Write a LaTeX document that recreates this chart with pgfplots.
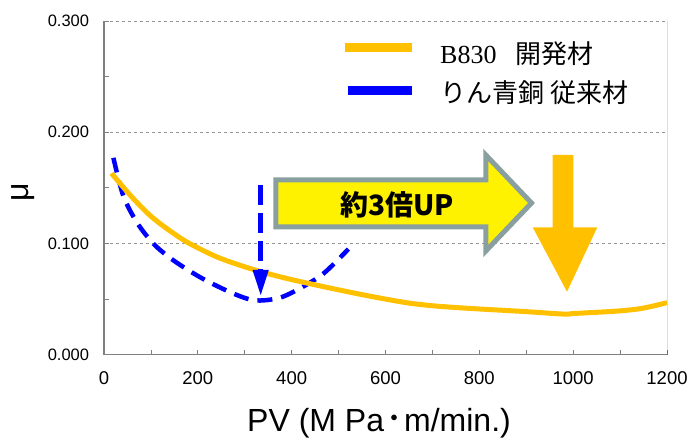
\documentclass[border=0pt]{standalone}
\usepackage{fontspec}
\setmainfont{Liberation Sans}
\newfontfamily\cjk{Noto Sans CJK JP}
\newfontfamily\serif{Liberation Serif}
\usepackage{pgfplots}
\pgfplotsset{compat=1.18}

\definecolor{gold}{RGB}{255,192,0}
\definecolor{arrowgray}{RGB}{138,160,160}
\definecolor{gridgray}{RGB}{150,150,150}
\definecolor{axisgray}{RGB}{128,128,128}

\begin{document}
\begin{tikzpicture}[x=1pt,y=1pt]
\useasboundingbox (0,0) rectangle (688,438);
\begin{axis}[
    at={(104pt,83.3pt)}, anchor=south west,
    scale only axis, width=563pt, height=333.7pt,
    xmin=0, xmax=1200, ymin=0, ymax=0.3,
    axis x line*=bottom, axis y line*=left,
    axis line style={axisgray, line width=1.2pt},
    xtick={0,200,...,1200}, minor x tick num=1,
    ytick={0,0.1,0.2,0.3}, minor y tick num=1,
    tick align=inside,
    major tick length=5pt, minor tick length=5pt,
    tick style={axisgray, line width=0.8pt},
    ymajorgrids,
    grid style={gridgray, dash pattern=on 3pt off 3pt, line width=0.8pt},
    /pgf/number format/assume math mode=true,
    /pgf/number format/1000 sep={},
    scaled y ticks=false,
    yticklabel style={/pgf/number format/fixed, /pgf/number format/fixed zerofill,
        /pgf/number format/precision=3,
        font=\fontsize{16.5}{18}\selectfont, anchor=east, inner sep=0pt, xshift=-14.7pt},
    xticklabel style={font=\fontsize{18.5}{20}\selectfont, anchor=north, inner sep=0pt, yshift=-17pt},
    xlabel={PV (M Pa\raisebox{5.4pt}{\cjk\bfseries\fontsize{20}{22}\selectfont ・}m/min.)},
    ylabel={μ},
    label style={font=\fontsize{32}{36}\selectfont, inner sep=0pt},
    xlabel style={at={(rel axis cs:0.4885,-0.2047)}, anchor=center},
    ylabel style={at={(rel axis cs:-0.1439,0.488)}, anchor=center},
]

% りん青銅 (conventional)
\addplot[blue, line width=4.5pt, smooth, dash pattern=on 15pt off 9pt] coordinates {
    (20,0.177) (41,0.143) (70,0.119) (106,0.0995) (148,0.0848) (205,0.0696)
    (262,0.0575) (304,0.0505) (333,0.0487) (375,0.0512) (418,0.0597)
    (468,0.073) (521,0.095)
};

% B830 (developed)
\addplot[gold, line width=5pt, smooth] coordinates {
    (16,0.163) (60,0.1415) (100,0.1245) (140,0.1115) (180,0.1005) (240,0.0880)
    (300,0.0790) (350,0.0728) (400,0.0675) (450,0.0628) (500,0.0583)
    (550,0.0540) (600,0.0500) (650,0.0464) (700,0.0440) (750,0.0424)
    (800,0.0411) (900,0.0387) (980,0.0365) (1000,0.0370) (1050,0.0381)
    (1100,0.0394) (1140,0.0412) (1170,0.0437) (1200,0.0468)
};

\draw[black, line width=1pt] (rel axis cs:1,0) -- (rel axis cs:1,1);
\end{axis}

% legend
\draw[gold, line width=9pt] (345,390.7) -- (411.7,390.7);
\draw[blue, line width=9pt] (348,347) -- (411.7,347);
\node[anchor=west, inner sep=0pt] at (440,384)
    {\fontsize{26}{30}\selectfont{\serif B830}\hspace{19pt}{\cjk 開発材}};
\node[anchor=west, inner sep=0pt] at (440,345.5)
    {\cjk\fontsize{26}{30}\selectfont りん青銅 従来材};

% blue dashed arrow
\draw[blue, line width=4.5pt, dash pattern=on 20pt off 8pt] (260.7,253) -- (260.7,168);
\fill[blue] (252.5,168) -- (268.8,168) -- (260.7,143) -- cycle;

% orange arrow
\fill[gold] (552.7,283) -- (573.3,283) -- (573.3,210.7) -- (597.3,210.7)
    -- (567,146.3) -- (532.7,210.7) -- (552.7,210.7) -- cycle;

% yellow arrow
\draw[arrowgray, fill=yellow, line width=5pt, miter limit=4]
    (275.8,258.2) -- (485.8,258.2) -- (485.8,283) -- (531.5,235)
    -- (485.8,187) -- (485.8,211.2) -- (275.8,211.2) -- cycle;
\node at (397,233) {\cjk\bfseries\fontsize{28}{32}\selectfont 約3倍UP};
\end{tikzpicture}
\end{document}
